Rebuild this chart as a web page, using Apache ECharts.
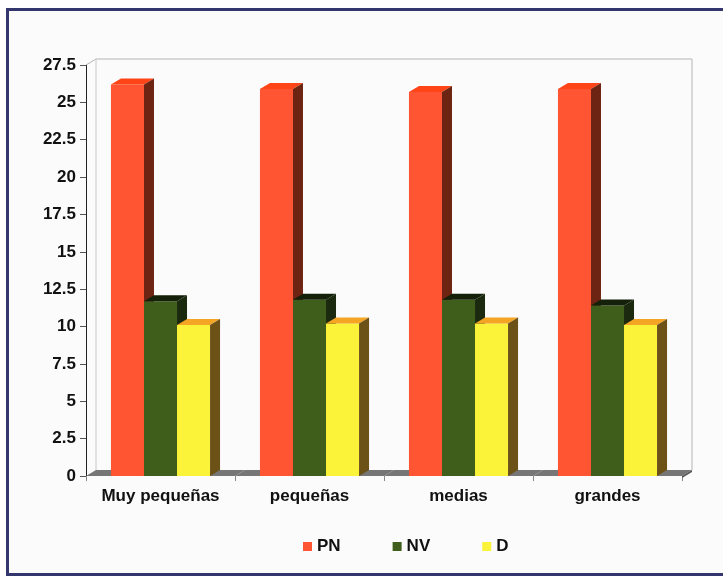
<!DOCTYPE html>
<html>
<head>
<meta charset="utf-8">
<script src="https://cdn.jsdelivr.net/npm/echarts@6/dist/echarts.min.js"></script>
<style>
  html, body { margin: 0; padding: 0; background: #ffffff; }
  #frame {
    position: absolute; left: 6px; top: 8px; width: 730px; height: 562px;
    border: 3px solid #34366e; border-right: none; background: #fbfbfb;
  }
  #chart { position: absolute; left: 0; top: 0; width: 723px; height: 577px; }
</style>
</head>
<body>
<div id="frame"></div>
<div id="chart"></div>
<script>
// datos
const categories = ["Muy pequeñas", "pequeñas", "medias", "grandes"];
const seriesNames = ["PN", "NV", "D"];
const pnValues = [26.2, 25.9, 25.7, 25.9];
const nvValues = [11.7, 11.8, 11.8, 11.4];
const dValues = [10.1, 10.2, 10.2, 10.1];
const yTicks = { min: 0, max: 27.5, interval: 2.5 };

// colores: frente, arriba, lado
const faces = [
  { front: "#ff5533", top: "#ff4418", side: "#6e2412" },
  { front: "#3f5e1c", top: "#14200a", side: "#1b2a0e" },
  { front: "#fbf23a", top: "#f4a524", side: "#6d5218" },
];
const gap = 0.335; // hueco entre grupos
const dx = 10, dy = 6; // profundidad 3d

let chart = echarts.init(document.getElementById("chart"));

function barRender(si) {
  return function (params, api) {
    const idx = api.value(0);
    const v = api.value(1);
    const topPt = api.coord([idx, v]);
    const basePt = api.coord([idx, 0]);
    const catW = api.size([1, 0])[0];
    const bw = (catW * (1 - gap)) / 3;
    const x0 = topPt[0] - 1.5 * bw + si * bw;
    const x1 = x0 + bw;
    const y = topPt[1];
    const yb = basePt[1];
    const c = faces[si];
    return {
      type: "group",
      children: [
        { type: "rect", shape: { x: x0, y: y, width: bw, height: yb - y }, style: { fill: c.front } },
        { type: "polygon", shape: { points: [[x0, y], [x1, y], [x1 + dx, y - dy], [x0 + dx, y - dy]] }, style: { fill: c.top } },
        { type: "polygon", shape: { points: [[x1, y], [x1 + dx, y - dy], [x1 + dx, yb - dy], [x1, yb]] }, style: { fill: c.side } },
      ],
    };
  };
}

function floorRender(params, api) {
  const idx = api.value(0);
  const catW = api.size([1, 0])[0];
  const base = api.coord([idx, 0]);
  const topY = api.coord([idx, yTicks.max])[1];
  const xl = base[0] - catW / 2;
  const xr = base[0] + catW / 2;
  const yb = base[1];
  const children = [
    { type: "polygon", shape: { points: [[xl, yb], [xr, yb], [xr + dx, yb - dy], [xl + dx, yb - dy]] }, style: { fill: "#767676" } },
    { type: "line", shape: { x1: xl + dx, y1: topY - dy, x2: xr + dx, y2: topY - dy }, style: { stroke: "#b4b4b4", lineWidth: 1 } },
  ];
  if (idx === 0) {
    children.push({ type: "line", shape: { x1: xl, y1: topY, x2: xl + dx, y2: topY - dy }, style: { stroke: "#b4b4b4", lineWidth: 1 } });
    children.push({ type: "line", shape: { x1: xl + dx, y1: topY - dy, x2: xl + dx, y2: yb - dy }, style: { stroke: "#c8c8c8", lineWidth: 1 } });
  }
  if (idx === categories.length - 1) {
    children.push({ type: "line", shape: { x1: xr + dx, y1: topY - dy, x2: xr + dx, y2: yb - dy }, style: { stroke: "#b4b4b4", lineWidth: 1 } });
    children.push({ type: "polygon", shape: { points: [[xr, yb], [xr + dx, yb - dy], [xr + dx, yb - dy + 2], [xr, yb + 2]] }, style: { fill: "#555555" } });
  }
  return { type: "group", children: children };
}

const allValues = [pnValues, nvValues, dValues];

let option = {
  animation: false,
  textStyle: { fontFamily: "Liberation Sans" },
  legend: {
    data: seriesNames,
    left: 298,
    top: 533,
    icon: "rect",
    itemWidth: 9,
    itemHeight: 9,
    itemGap: 52,
    textStyle: { color: "#111", fontSize: 17, fontWeight: "bold" },
  },
  grid: { left: 86, right: 41, top: 65, bottom: 101 },
  xAxis: {
    type: "category",
    data: categories,
    axisLine: { show: false },
    axisTick: { show: true, interval: 0, length: 5, lineStyle: { color: "#888" } },
    axisLabel: { color: "#111", fontSize: 17, fontWeight: "bold", margin: 12, interval: 0, hideOverlap: false },
  },
  yAxis: {
    type: "value",
    min: yTicks.min,
    max: yTicks.max,
    interval: yTicks.interval,
    splitLine: { show: false },
    axisLine: { show: true, lineStyle: { color: "#222" } },
    axisTick: { show: true, length: 6, lineStyle: { color: "#555" } },
    axisLabel: { color: "#111", fontSize: 17, fontWeight: "bold", margin: 10 },
  },
  series: [
    {
      name: "floor",
      type: "custom",
      renderItem: floorRender,
      data: categories.map((c, i) => [i, 0]),
      encode: { x: 0, y: 1 },
      silent: true,
    },
  ].concat(
    seriesNames.map((n, si) => ({
      name: n,
      type: "custom",
      renderItem: barRender(si),
      itemStyle: { color: faces[si].front },
      data: allValues[si].map((v, i) => [i, v]),
      encode: { x: 0, y: 1 },
    }))
  ),
};
chart.setOption(option);
</script>
</body>
</html>
